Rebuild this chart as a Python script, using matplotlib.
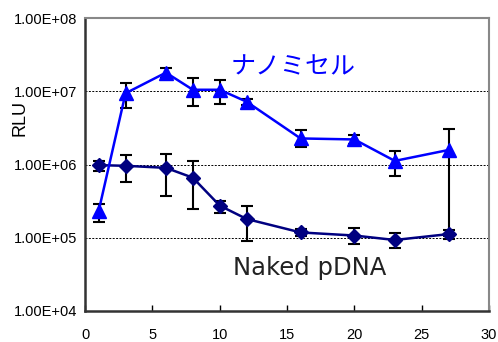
import numpy as np
import matplotlib.pyplot as plt

# days
days = [1, 3, 6, 8, 10, 12, 16, 20, 23, 27]

# nanomicelle RLU (mean, lower end, upper end of error bar)
micelle = [2.3e5, 9.4e6, 1.8e7, 1.05e7, 1.05e7, 7.2e6, 2.27e6, 2.2e6, 1.12e6, 1.58e6]
micelle_lo = [1.65e5, 6.0e6, 1.5e7, 6.3e6, 6.8e6, 6.6e6, 1.74e6, 1.9e6, 6.9e5, 1.05e5]
micelle_hi = [2.9e5, 1.3e7, 2.1e7, 1.5e7, 1.45e7, 7.8e6, 2.96e6, 2.5e6, 1.55e6, 3.1e6]

# naked pDNA RLU
naked = [9.8e5, 9.6e5, 9.0e5, 6.6e5, 2.74e5, 1.8e5, 1.18e5, 1.07e5, 9.3e4, 1.12e5]
naked_lo = [8.1e5, 5.7e5, 3.7e5, 2.45e5, 2.2e5, 9.0e4, 1.05e5, 8.1e4, 7.2e4, 9.5e4]
naked_hi = [1.12e6, 1.35e6, 1.4e6, 1.1e6, 3.2e5, 2.74e5, 1.32e5, 1.37e5, 1.15e5, 1.27e5]

yticks = [1e4, 1e5, 1e6, 1e7, 1e8]
ytick_labels = ["1.00E+04", "1.00E+05", "1.00E+06", "1.00E+07", "1.00E+08"]
xticks = [0, 5, 10, 15, 20, 25, 30]

plt.rcParams['font.family'] = ['Liberation Sans', 'DejaVu Sans']

fig = plt.figure(figsize=(4.98, 3.42), dpi=100)
ax = fig.add_axes([0.171, 0.091, 0.811, 0.856])

m = np.array(micelle)
n = np.array(naked)
err_m = [m - np.array(micelle_lo), np.array(micelle_hi) - m]
err_n = [n - np.array(naked_lo), np.array(naked_hi) - n]

# grid lines at decades
for v in yticks[1:-1]:
    ax.axhline(v, color='black', linestyle=(0, (2, 1.5)), linewidth=0.7, zorder=1)

ax.errorbar(days, naked, yerr=err_n, fmt='none', ecolor='black',
            elinewidth=1.5, capsize=4, capthick=1.5, zorder=2)
ax.errorbar(days, micelle, yerr=err_m, fmt='none', ecolor='black',
            elinewidth=1.5, capsize=4, capthick=1.5, zorder=2)
ax.plot(days, naked, color='#000080', marker='D', markersize=7,
        linewidth=1.8, zorder=3)
ax.plot(days, micelle, color='#0000ff', marker='^', markersize=10,
        linewidth=1.8, zorder=4)

ax.set_yscale('log')
ax.set_ylim(1e4, 1e8)
ax.set_xlim(0, 30)
ax.set_yticks(yticks)
ax.set_yticklabels(ytick_labels)
ax.minorticks_off()
ax.set_xticks(xticks)
ax.tick_params(axis='both', direction='in', labelsize=10.5, length=4,
               width=1, colors='black')
ax.tick_params(axis='y', length=0, pad=6)
ax.tick_params(axis='x', pad=12)

for s in ['top', 'right']:
    ax.spines[s].set_color('#888888')
    ax.spines[s].set_linewidth(1.5)
for s in ['left', 'bottom']:
    ax.spines[s].set_color('#333333')
    ax.spines[s].set_linewidth(1.8)

# rotated axis title sits below the 1.00E+07 label, as in the original
fig.text(20 / 498, 1 - 118 / 342, "RLU", rotation=90, fontsize=13,
         ha='center', va='center')

ax.text(10.8, 2.1e7, "ナノミセル", color='#0000ff', fontsize=18,
        family=['Noto Sans CJK JP', 'DejaVu Sans'], va='center', ha='left')
ax.text(11.0, 3.9e4, "Naked pDNA", color='#222222', fontsize=17.5,
        family=['DejaVu Sans'], va='center', ha='left')

fig.savefig("out.png", dpi=100)
